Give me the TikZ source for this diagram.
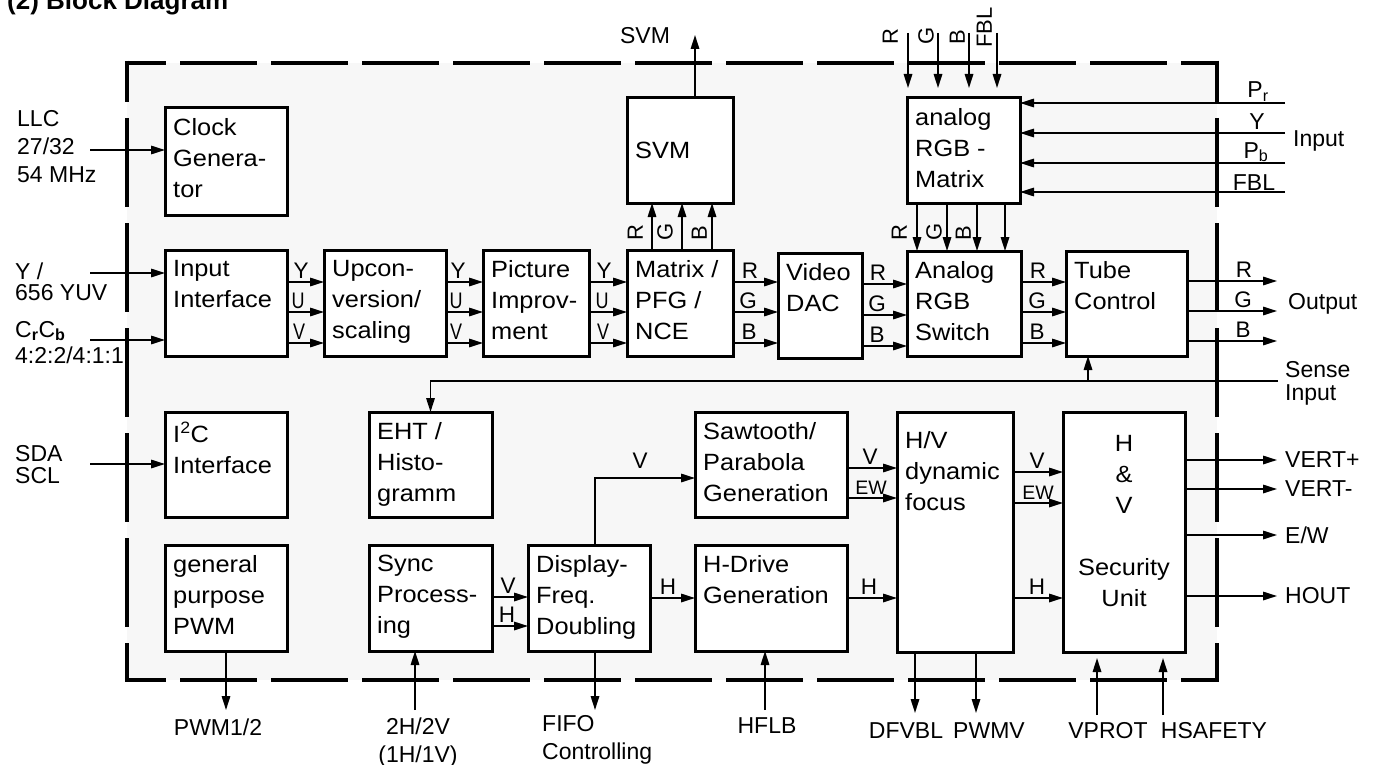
\documentclass[tikz,border=0pt]{standalone}
\usepackage{fontspec}
\usepackage{graphicx}
\setmainfont{Liberation Sans}
\newfontfamily\boxfont[FakeStretch=1.08]{Liberation Sans}
\usetikzlibrary{arrows.meta}
\definecolor{bg}{HTML}{F7F7F7}
\newcommand\fsz[2]{\fontsize{#1}{#2}\selectfont}
\newcommand\nar[1]{\scalebox{0.8}[1]{#1}}
\newcommand\blk[6]{%
  \node[box, minimum width={#4-#2}, minimum height={#5-#3}] (#1) at (#2,#3) {};
  \node[btxt] (#1t) at (#2+8,#3+10) {#6};}
\newcommand\hcon[6]{%
  \draw[arr] (#1.east |- 0,#3) -- (#2.west |- 0,#3);
  \node[lab] (#6) at (#4,#3-3) {#5};}
\begin{document}
\begin{tikzpicture}[x=1pt,y=-1pt,
  box/.style={draw, line width=3pt, fill=white, inner sep=0pt, outer sep=0pt, anchor=north west},
  btxt/.style={inner sep=0pt, anchor=north west, align=left, font=\boxfont\fsz{23.5}{31}},
  arr/.style={line width=1.6pt, -{Triangle[length=14pt,width=8.5pt]}},
  lab/.style={inner sep=0pt, font=\fsz{22.5}{24}, anchor=south},
  rlab/.style={inner sep=0pt, font=\fsz{22}{24}, rotate=90, anchor=south west},
  otxt/.style={inner sep=0pt, font=\fsz{23}{28}, align=left},
  border/.style={line width=4.5pt}
]
\useasboundingbox (0,0) rectangle (1375,765);
\node[anchor=base west, inner sep=0pt, font=\bfseries\fsz{26}{30}] (title) at (7,10) {(2) Block Diagram};

% frame
\fill[bg] (127,63) rectangle (1217,680);
\draw[border, dash pattern=on 77pt off 14pt, dash phase=35.75pt] (124.75,63) -- (1219.25,63);
\draw[border, dash pattern=on 77pt off 14pt, dash phase=35.75pt] (124.75,680) -- (1219.25,680);
\draw[border, dash pattern=on 89pt off 16pt, dash phase=47.75pt] (127,60.75) -- (127,682.25);
\draw[border, dash pattern=on 89pt off 16pt, dash phase=47.75pt] (1217,60.75) -- (1217,682.25);

% blocks
\blk{clk}{165}{108}{287}{215}{Clock\\Genera-\\tor}
\blk{inp}{165}{250}{287}{356}{Input\\Interface}
\blk{ups}{324}{250}{446}{356}{Upcon-\\version/\\scaling}
\blk{pic}{483}{250}{589}{356}{Picture\\Improv-\\ment}
\blk{mtx}{627}{250}{733}{356}{Matrix /\\PFG /\\NCE}
\blk{dac}{778}{253}{862}{358}{Video\\DAC}
\blk{sw}{907}{251}{1021}{356}{Analog\\RGB\\Switch}
\blk{tube}{1066}{251}{1187}{356}{Tube\\Control}
\blk{am}{907}{98}{1020}{203}{analog\\RGB -\\Matrix}
\node[box, minimum width=106, minimum height=105] (svm) at (627,98) {};
\node[btxt, anchor=west] (svmt) at (635,150) {SVM};
\blk{iic}{165}{412}{287}{517}{I\textsuperscript{2}C\\Interface}
\blk{eht}{369}{412}{492}{517}{EHT /\\Histo-\\gramm}
\blk{pwm}{165}{545}{287}{651}{general\\purpose\\PWM}
\blk{sync}{369}{545}{492}{651}{Sync\\Process-\\ing}
\blk{disp}{528}{545}{650}{651}{Display-\\Freq.\\Doubling}
\blk{hdr}{695}{545}{847}{651}{H-Drive\\Generation}
\blk{saw}{695}{412}{847}{517}{Sawtooth/\\Parabola\\Generation}
\node[box, minimum width=116, minimum height=240] (hv) at (897,412) {};
\node[btxt] (hvt) at (905,431) {H/V\\dynamic\\focus};
\node[box, minimum width=122, minimum height=240] (sec) at (1063,412) {};
\node[btxt, anchor=north, align=center] (sect) at (1124,435) {H\\\&\\V\\[31pt]Security\\Unit};

% left inputs
\node[otxt, anchor=north west] (llc) at (17,110) {LLC\\27/32\\54 MHz};
\node[otxt, anchor=north west, font=\fsz{23}{21}] (yuvl) at (15,263) {Y /\\656 YUV};
\node[otxt, anchor=base west] (crcb) at (15,337) {C\textsubscript{\textbf{r}}C\textsubscript{\textbf{b}}};
\node[otxt, anchor=base west] (crcb2) at (15,363) {4:2:2/4:1:1};
\node[otxt, anchor=north west, font=\fsz{23}{22}] (sdal) at (15,445) {SDA\\SCL};
\coordinate (cL) at (90,150);
\coordinate (cY) at (90,273);
\coordinate (cC) at (90,340);
\coordinate (cS) at (90,464);
\draw[arr] (cL) -- (clk.west |- cL);
\draw[arr] (cY) -- (inp.west |- cY);
\draw[arr] (cC) -- (inp.west |- cC);
\draw[arr] (cS) -- (iic.west |- cS);

% row 1 connectors
\hcon{inp}{ups}{282}{301}{Y}{l1}
\hcon{inp}{ups}{312}{298}{\nar{U}}{l2}
\hcon{inp}{ups}{343}{299}{\nar{V}}{l3}
\hcon{ups}{pic}{282}{458}{Y}{l4}
\hcon{ups}{pic}{312}{456}{\nar{U}}{l5}
\hcon{ups}{pic}{343}{456}{\nar{V}}{l6}
\hcon{pic}{mtx}{282}{604}{Y}{l7}
\hcon{pic}{mtx}{312}{602}{\nar{U}}{l8}
\hcon{pic}{mtx}{343}{603}{\nar{V}}{l9}
\hcon{mtx}{dac}{282}{750}{R}{l10}
\hcon{mtx}{dac}{312}{748}{G}{l11}
\hcon{mtx}{dac}{343}{749}{B}{l12}
\hcon{dac}{sw}{284}{878}{R}{l13}
\hcon{dac}{sw}{315}{877}{G}{l14}
\hcon{dac}{sw}{346}{877}{B}{l15}
\hcon{sw}{tube}{282}{1038}{R}{l16}
\hcon{sw}{tube}{312}{1037}{G}{l17}
\hcon{sw}{tube}{343}{1037}{B}{l18}

% tube outputs
\coordinate (coR) at (1277,281);
\coordinate (coG) at (1277,311);
\coordinate (coB) at (1277,341);
\draw[arr] (tube.east |- coR) -- (coR);
\draw[arr] (tube.east |- coG) -- (coG);
\draw[arr] (tube.east |- coB) -- (coB);
\node[lab] (loR) at (1244,278) {R};
\node[lab] (loG) at (1243,308) {G};
\node[lab] (loB) at (1243,338) {B};
\node[otxt, anchor=west] (outl) at (1288,304) {Output};

% sense input
\coordinate (csense) at (1278,381);
\draw[arr] (csense) -| (eht.north);
\draw[arr] (csense -| 1088,0) -- (tube.south -| 1088,0);
\node[otxt, anchor=north west, font=\fsz{23}{23}] (sensel) at (1285,361) {Sense\\Input};

% SVM
\draw[arr] (mtx.north -| 652,0) -- (svm.south -| 652,0);
\draw[arr] (mtx.north -| 682,0) -- (svm.south -| 682,0);
\draw[arr] (mtx.north -| 712,0) -- (svm.south -| 712,0);
\node[rlab] (lsR) at (643,241) {R};
\node[rlab] (lsG) at (673,241) {G};
\node[rlab] (lsB) at (707,241) {B};
\coordinate (csvm) at (695,35);
\draw[arr] (svm.north -| csvm) -- (csvm);
\node[otxt, anchor=base] (svml) at (645,44) {SVM};

% analog RGB matrix
\coordinate (ctR) at (908,33);
\coordinate (ctG) at (938,33);
\coordinate (ctB) at (969,33);
\coordinate (ctF) at (997,33);
\draw[arr, shorten >=10pt] (ctR) -- (am.north -| ctR);
\draw[arr, shorten >=10pt] (ctG) -- (am.north -| ctG);
\draw[arr, shorten >=10pt] (ctB) -- (am.north -| ctB);
\draw[arr, shorten >=10pt] (ctF) -- (am.north -| ctF);
\node[rlab] (ltR) at (898,45) {R};
\node[rlab] (ltG) at (934,45) {G};
\node[rlab] (ltB) at (965,45) {B};
\node[rlab] (ltF) at (992,48) {FBL};
\draw[arr] (am.south -| 917,0) -- (sw.north -| 917,0);
\draw[arr] (am.south -| 947,0) -- (sw.north -| 947,0);
\draw[arr] (am.south -| 977,0) -- (sw.north -| 977,0);
\draw[arr] (am.south -| 1005,0) -- (sw.north -| 1005,0);
\node[rlab] (lmR) at (907,241) {R};
\node[rlab] (lmG) at (942,241) {G};
\node[rlab] (lmB) at (971,241) {B};
\coordinate (cpr) at (1285,103);
\coordinate (cpy) at (1285,133);
\coordinate (cpb) at (1285,163);
\coordinate (cpf) at (1285,192);
\draw[arr] (cpr) -- (am.east |- cpr);
\draw[arr] (cpy) -- (am.east |- cpy);
\draw[arr] (cpb) -- (am.east |- cpb);
\draw[arr] (cpf) -- (am.east |- cpf);
\node[otxt, anchor=base] (prl) at (1258,98) {P\textsubscript{r}};
\node[otxt, anchor=base] (pyl) at (1257,130) {Y};
\node[otxt, anchor=base] (pbl) at (1256,158) {P\textsubscript{b}};
\node[otxt, anchor=base] (pfl) at (1254,190) {FBL};
\node[otxt, anchor=west] (inl) at (1293,141) {Input};

% deflection part
\hcon{sync}{disp}{597}{508}{V}{l20}
\hcon{sync}{disp}{626}{507}{H}{l21}
\hcon{disp}{hdr}{598}{668}{H}{l22}
\coordinate (cdv) at (595,478);
\draw[arr] (disp.north -| cdv) -- (cdv) -- (saw.west |- cdv);
\node[lab] (l23) at (640,469) {V};
\hcon{saw}{hv}{468}{870}{V}{l24}
\hcon{saw}{hv}{498}{871}{\fsz{19.5}{20}EW}{l25}
\hcon{hdr}{hv}{598}{869}{H}{l26}
\hcon{hv}{sec}{472}{1037}{V}{l27}
\hcon{hv}{sec}{503}{1038}{\fsz{19.5}{20}EW}{l28}
\hcon{hv}{sec}{598}{1037}{H}{l29}

% security outputs
\coordinate (cv1) at (1277,460);
\coordinate (cv2) at (1277,489);
\coordinate (cew) at (1277,535);
\coordinate (cho) at (1277,596);
\draw[arr] (sec.east |- cv1) -- (cv1);
\draw[arr] (sec.east |- cv2) -- (cv2);
\draw[arr] (sec.east |- cew) -- (cew);
\draw[arr] (sec.east |- cho) -- (cho);
\node[otxt, anchor=west] (vpl) at (1285,460) {VERT+};
\node[otxt, anchor=west] (vml) at (1285,489) {VERT-};
\node[otxt, anchor=west] (ewl) at (1285,535) {E/W};
\node[otxt, anchor=west] (hol) at (1285,596) {HOUT};

% bottom
\coordinate (cpwm) at (226,710);
\coordinate (c2h) at (415,710);
\coordinate (cfifo) at (595,710);
\coordinate (chflb) at (765,710);
\coordinate (cdfv) at (915,713);
\coordinate (cpwmv) at (976,713);
\coordinate (cvp) at (1097,715);
\coordinate (chs) at (1163,715);
\draw[arr] (pwm.south -| cpwm) -- (cpwm);
\draw[arr] (c2h) -- (sync.south -| c2h);
\draw[arr] (disp.south -| cfifo) -- (cfifo);
\draw[arr] (chflb) -- (hdr.south -| chflb);
\draw[arr] (hv.south -| cdfv) -- (cdfv);
\draw[arr] (hv.south -| cpwmv) -- (cpwmv);
\draw[arr, shorten >=6pt] (cvp) -- (sec.south -| cvp);
\draw[arr, shorten >=6pt] (chs) -- (sec.south -| chs);
\node[otxt, anchor=base] (pwml) at (218,735) {PWM1/2};
\node[otxt, anchor=north, align=center] (hhl) at (418,718) {2H/2V\\(1H/1V)};
\node[otxt, anchor=north west] (fifol) at (542,715) {FIFO\\Controlling};
\node[otxt, anchor=base] (hflbl) at (767,733) {HFLB};
\node[otxt, anchor=base] (dfl) at (906,738) {DFVBL};
\node[otxt, anchor=base] (pwmvl) at (989,738) {PWMV};
\node[otxt, anchor=base] (vprotl) at (1108,738) {VPROT};
\node[otxt, anchor=base] (hsafl) at (1214,738) {HSAFETY};
\end{tikzpicture}
\end{document}
